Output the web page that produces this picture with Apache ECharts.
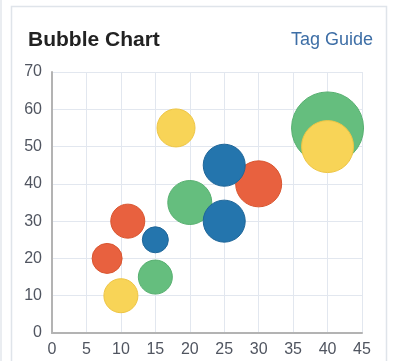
<!DOCTYPE html>
<html>
<head>
<meta charset="utf-8">
<script src="https://cdn.jsdelivr.net/npm/echarts@6/dist/echarts.min.js"></script>
<style>
  html, body { margin: 0; padding: 0; background: #fff; }
  #chart { width: 393px; height: 361px; }
</style>
</head>
<body>
<div id="chart"></div>
<script>
// Bubble data: each point is [x, y, r] where r is the bubble radius value
const redPoints    = [[8, 20, 15], [11, 30, 17], [30, 40, 23]];
const greenPoints  = [[15, 15, 17], [20, 35, 22], [40, 55, 36]];
const yellowPoints = [[10, 10, 17], [18, 55, 19], [40, 50, 26]];
const bluePoints   = [[15, 25, 13], [25, 45, 21], [25, 30, 21]];

const xTicks = { min: 0, max: 45, interval: 5 };
const yTicks = { min: 0, max: 70, interval: 10 };

const chart = echarts.init(document.getElementById('chart'), null, { renderer: 'canvas' });

function bubbleSeries(name, data, color, border) {
  return {
    name: name,
    type: 'scatter',
    data: data,
    symbolSize: d => d[2] * 2,
    itemStyle: { color: color, borderColor: border, borderWidth: 1, opacity: 1 },
    emphasis: { disabled: true }
  };
}

chart.setOption({
  animation: false,
  textStyle: { fontFamily: 'Liberation Sans, Arial, sans-serif' },
  graphic: [
    // card outline
    { type: 'rect', shape: { x: 11.5, y: 6.5, width: 375, height: 370 },
      style: { fill: '#fff', stroke: '#dfe4ea', lineWidth: 1.5 }, z: -10 },
    // edge of neighbouring panel
    { type: 'line', shape: { x1: 1, y1: 0, x2: 1, y2: 361 },
      style: { stroke: '#e3e7ec', lineWidth: 1.5 }, z: -10 },
    { type: 'text', left: 28, top: 30,
      style: { text: 'Bubble Chart', font: 'bold 21px Liberation Sans, Arial, sans-serif', fill: '#222' } },
    { type: 'text', right: 20, top: 31,
      style: { text: 'Tag Guide', font: '18px Liberation Sans, Arial, sans-serif', fill: '#3d6ea6' } }
  ],
  grid: { left: 52, right: 31, top: 72, bottom: 28, containLabel: false },
  xAxis: {
    type: 'value', min: xTicks.min, max: xTicks.max, interval: xTicks.interval,
    axisLine: { show: true, onZero: false, lineStyle: { color: '#b3b3b3', width: 2 } },
    axisTick: { show: false },
    axisLabel: { color: '#505560', fontSize: 16, margin: 9 },
    splitLine: { show: true, lineStyle: { color: '#e2e7ef', width: 1 } }
  },
  yAxis: {
    type: 'value', min: yTicks.min, max: yTicks.max, interval: yTicks.interval,
    axisLine: { show: true, onZero: false, lineStyle: { color: '#b3b3b3', width: 2 } },
    axisTick: { show: false },
    axisLabel: { color: '#505560', fontSize: 16, margin: 10 },
    splitLine: { show: true, lineStyle: { color: '#e2e7ef', width: 1 } }
  },
  series: [
    bubbleSeries('red', redPoints, '#e8613f', '#d9552f'),
    bubbleSeries('green', greenPoints, '#65be7e', '#57b070'),
    bubbleSeries('yellow', yellowPoints, '#f8d457', '#eec544'),
    bubbleSeries('blue', bluePoints, '#2475ad', '#1f6699')
  ]
});
</script>
</body>
</html>
